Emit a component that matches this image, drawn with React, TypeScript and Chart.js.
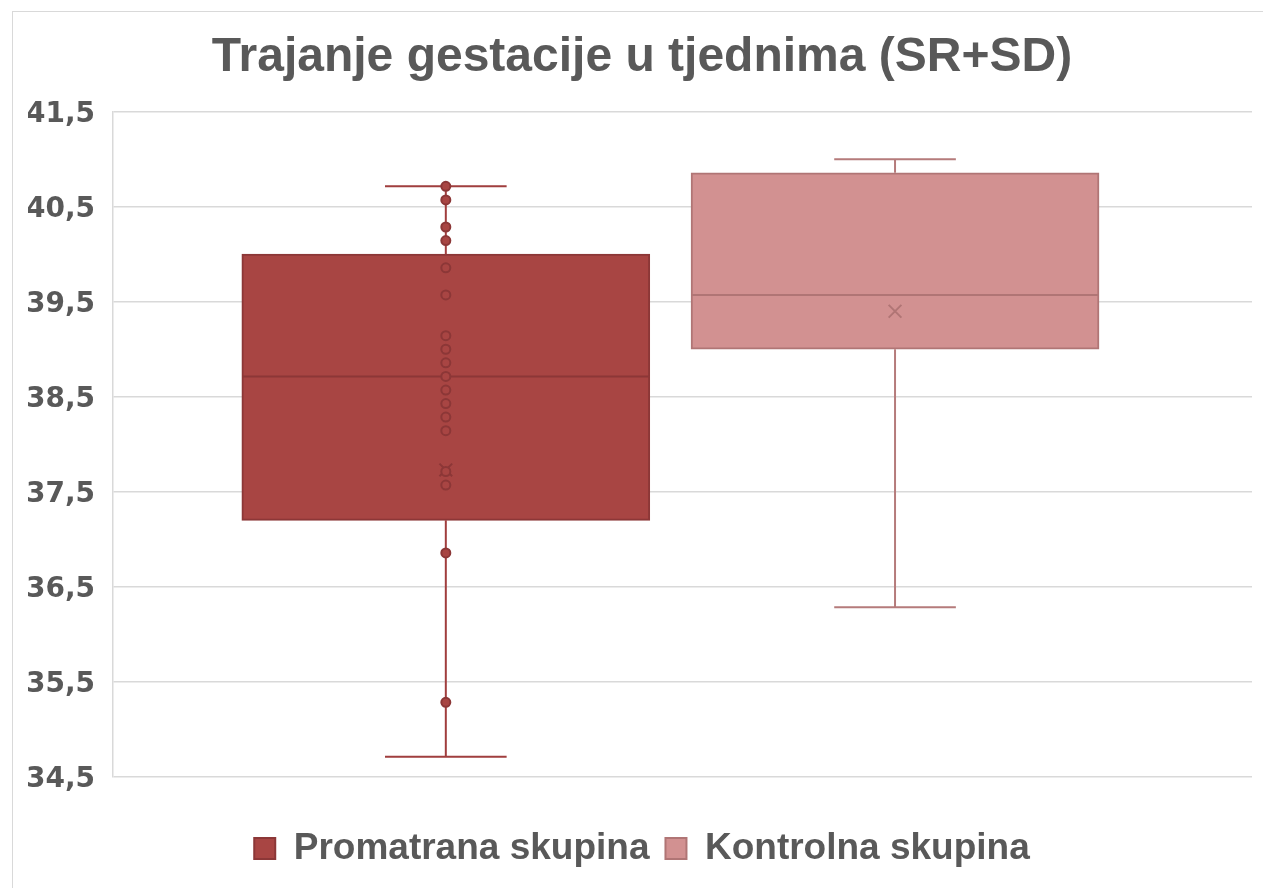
import React, { useEffect, useRef } from 'react';
import { Chart, registerables } from 'chart.js';

Chart.register(...registerables);

// ---------- data ----------
const TITLE = 'Trajanje gestacije u tjednima (SR+SD)';
const CATEGORIES = ['Promatrana skupina', 'Kontrolna skupina'];
const Y_TICKS = [34.5, 35.5, 36.5, 37.5, 38.5, 39.5, 40.5, 41.5];
const Y_TICK_LABELS = ['34,5', '35,5', '36,5', '37,5', '38,5', '39,5', '40,5', '41,5'];

const Q1 = [37.2, 39.0];
const Q3 = [40.0, 40.857];
const MEDIAN = [38.714, 39.571];
const MEAN = [37.73, 39.4];
const WHISKER_LOW = [34.714, 36.286];
const WHISKER_HIGH = [40.714, 41.0];
const POINTS_PROMATRANA = [
  40.714, 40.571, 40.286, 40.143, 39.857, 39.571, 39.143, 39.0, 38.857, 38.714,
  38.571, 38.429, 38.286, 38.143, 37.714, 37.571, 36.857, 35.286,
];

// ---------- styles ----------
const TEXT = '#595959';
const GRID = '#d9d9d9';
const FILL = ['#A84543', '#D29191'];
const EDGE = ['#8C3737', '#B07575'];
const WHISK = ['#A03E3E', '#B57B7B'];

// ---------- layout (x scale spans 0..1 over the plot area) ----------
const X_CENTER = [0.2922, 0.6866];
const BOX_HALF = 0.1785;
const CAP_HALF = 0.0534;
const BOX_PX = 408;

function whiskerData(i: number) {
  const c = X_CENTER[i];
  return [
    { x: c - CAP_HALF, y: WHISKER_HIGH[i] },
    { x: c + CAP_HALF, y: WHISKER_HIGH[i] },
    { x: c, y: null },
    { x: c, y: WHISKER_HIGH[i] },
    { x: c, y: Q3[i] },
    { x: c, y: null },
    { x: c, y: Q1[i] },
    { x: c, y: WHISKER_LOW[i] },
    { x: c, y: null },
    { x: c - CAP_HALF, y: WHISKER_LOW[i] },
    { x: c + CAP_HALF, y: WHISKER_LOW[i] },
  ];
}

export default function App() {
  const ref = useRef<HTMLCanvasElement | null>(null);

  useEffect(() => {
    if (!ref.current) return;
    const datasets: any[] = [];
    [0, 1].forEach((i) => {
      datasets.push({
        type: 'bar',
        label: CATEGORIES[i],
        data: [{ x: X_CENTER[i], y: [Q1[i], Q3[i]] }],
        backgroundColor: FILL[i],
        borderColor: EDGE[i],
        borderWidth: 2,
        borderSkipped: false,
        barThickness: BOX_PX,
        grouped: false,
        order: 10,
      });
    });
    [0, 1].forEach((i) => {
      datasets.push({
        type: 'line',
        label: 'whisker' + i,
        data: whiskerData(i),
        borderColor: WHISK[i],
        borderWidth: 2,
        pointRadius: 0,
        fill: false,
        spanGaps: false,
        order: 5,
      });
    });
    [0, 1].forEach((i) => {
      datasets.push({
        type: 'line',
        label: 'median' + i,
        data: [
          { x: X_CENTER[i] - BOX_HALF, y: MEDIAN[i] },
          { x: X_CENTER[i] + BOX_HALF, y: MEDIAN[i] },
        ],
        borderColor: EDGE[i],
        borderWidth: 2,
        pointRadius: 0,
        fill: false,
        order: 2,
      });
    });
    datasets.push({
      type: 'line',
      label: 'points',
      data: POINTS_PROMATRANA.map((v) => ({ x: X_CENTER[0], y: v })),
      showLine: false,
      pointRadius: 4.5,
      pointBackgroundColor: FILL[0],
      pointBorderColor: EDGE[0],
      pointBorderWidth: 2,
      order: 0,
    });
    [0, 1].forEach((i) => {
      datasets.push({
        type: 'line',
        label: 'mean' + i,
        data: [{ x: X_CENTER[i], y: MEAN[i] }],
        showLine: false,
        pointStyle: 'crossRot',
        pointRadius: 9,
        pointBorderColor: EDGE[i],
        pointBackgroundColor: EDGE[i],
        pointBorderWidth: 2,
        order: 0,
      });
    });

    const chart = new Chart(ref.current, {
      type: 'bar',
      data: { datasets },
      options: {
        responsive: false,
        animation: false,
        events: [],
        layout: { padding: { left: 28, right: 7, top: 0, bottom: 11 } },
        plugins: {
          title: {
            display: true,
            text: TITLE,
            color: TEXT,
            font: { family: 'Liberation Sans', size: 48, weight: 'bold' },
            padding: { top: 29, bottom: 25 },
          },
          legend: {
            position: 'bottom',
            labels: {
              boxWidth: 21,
              boxHeight: 21,
              padding: 16,
              color: TEXT,
              font: { family: 'Liberation Sans', size: 37, weight: 'bold' },
              filter: (item: any) => item.datasetIndex < 2,
            },
          },
          tooltip: { enabled: false },
        },
        scales: {
          x: {
            type: 'linear',
            min: 0,
            max: 1,
            offset: false,
            grid: { display: false },
            border: { display: false },
            ticks: { display: false },
            afterFit: (s: any) => {
              s.height = 37;
            },
          },
          y: {
            type: 'linear',
            min: 34.5,
            max: 41.5,
            afterBuildTicks: (s: any) => {
              s.ticks = Y_TICKS.map((v) => ({ value: v }));
            },
            ticks: {
              callback: (_v: any, idx: number) => Y_TICK_LABELS[idx],
              color: TEXT,
              padding: 18,
              labelOffset: 3,
              font: { family: 'DejaVu Sans', size: 28, weight: 'bold' },
            },
            grid: { color: GRID, lineWidth: 1.5, drawTicks: false },
            border: { display: true, color: GRID, width: 1.5 },
            afterFit: (s: any) => {
              s.width = 85;
            },
          },
        },
      } as any,
    });
    return () => chart.destroy();
  }, []);

  return (
    <div style={{ position: 'absolute', left: 0, top: 0, width: 1263, height: 888, overflow: 'hidden', background: '#fff' }}>
      <canvas ref={ref} width={1263} height={888} style={{ display: 'block' }} />
      <div
        style={{
          position: 'absolute',
          left: 12,
          top: 11,
          width: 1260,
          height: 890,
          borderTop: '1px solid #d9d9d9',
          borderLeft: '1px solid #d9d9d9',
          pointerEvents: 'none',
        }}
      />
    </div>
  );
}
